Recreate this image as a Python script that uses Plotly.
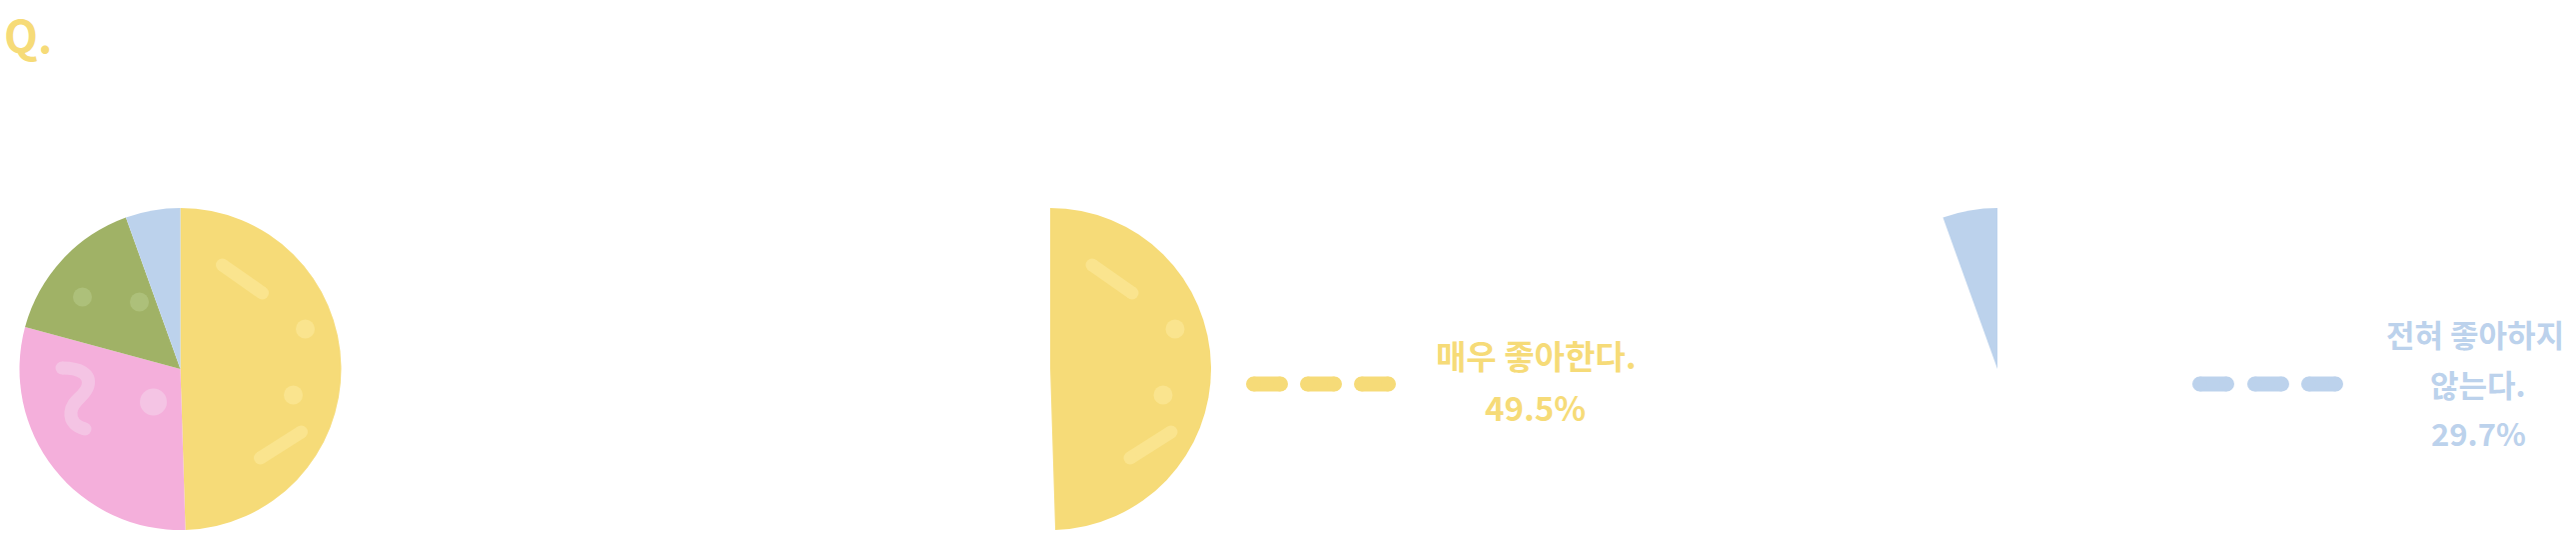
import plotly.graph_objects as go

# ---------------- data ----------------
categories = ["매우 좋아한다.", "좋아하는 편이다.", "좋아하지 않는 편이다.", "전혀 좋아하지 않는다."]
values = [49.5, 29.7, 15.3, 5.5]
slice_colors = ["#F6DB78", "#F4AFDB", "#A0B266", "#BCD2EC"]

title_text = "Q."
callout_yellow = ["매우 좋아한다.", "49.5%"]
callout_blue = ["전혀 좋아하지", "않는다.", "29.7%"]

# ---------------- layout helpers ----------------
W, H = 2578, 551
R = 161
CY = 369
centers_x = [180.5, 1051, 1999]
TRANSPARENT = "rgba(0,0,0,0)"
FONT = "Noto Sans CJK KR"


def px(x):
    return x / W


def py(y):
    return 1 - y / H


fig = go.Figure()


def add_pie(cx, visible_idx):
    cols = [c if (visible_idx is None or i in visible_idx) else TRANSPARENT
            for i, c in enumerate(slice_colors)]
    fig.add_trace(go.Pie(
        labels=categories, values=values, sort=False, direction="clockwise",
        rotation=0, marker=dict(colors=cols, line=dict(width=0)),
        textinfo="none", hoverinfo="none", showlegend=False,
        domain=dict(x=[px(cx - R), px(cx + R)], y=[py(CY + R), py(CY - R)]),
    ))


add_pie(centers_x[0], None)
add_pie(centers_x[1], [0])
add_pie(centers_x[2], [3])

shapes = []


def circle(x, y, r, color):
    shapes.append(dict(type="circle", xref="paper", yref="paper", layer="above",
                       x0=px(x - r), x1=px(x + r), y0=py(y + r), y1=py(y - r),
                       fillcolor=color, line=dict(width=0)))


def capsule(x0, y0, x1, y1, w, color):
    shapes.append(dict(type="line", xref="paper", yref="paper", layer="above",
                       x0=px(x0), y0=py(y0), x1=px(x1), y1=py(y1),
                       line=dict(color=color, width=w)))
    circle(x0, y0, w / 2, color)
    circle(x1, y1, w / 2, color)


def path(points_cmds, w, color, start, end):
    shapes.append(dict(type="path", xref="paper", yref="paper", layer="above",
                       path=points_cmds, line=dict(color=color, width=w),
                       fillcolor=TRANSPARENT))
    circle(start[0], start[1], w / 2, color)
    circle(end[0], end[1], w / 2, color)


# decorations on yellow slice (pie 1 and pie 2)
YD = "#FAE48E"
GD = "#ADC07A"
PD = "#F4C4E4"
SW = 13
for i, cx in enumerate(centers_x[:2]):
    capsule(cx + 42, CY - 104, cx + 82, CY - 76, SW, YD)
    circle(cx + 125, CY - 40, 9.5, YD)
    circle(cx + 113, CY + 26, 9.5, YD)
    capsule(cx + 80, CY + 89, cx + 121, CY + 63, SW, YD)
    if i == 0:
        circle(cx - 98, CY - 72, 9.5, GD)
        circle(cx - 41, CY - 67, 9.5, GD)
        circle(cx - 27, CY + 33, 13.5, PD)
        pts = [(62, 368), (80, 368), (91, 374), (88, 386), (85, 397), (72, 400),
               (71, 412), (70, 422), (77, 427), (85, 429)]
        pts = [(cx - 180.5 + a, b) for a, b in pts]
        s = "M {:.6f} {:.6f}".format(px(pts[0][0]), py(pts[0][1]))
        for k in range(1, len(pts), 3):
            s += " C " + ", ".join("{:.6f} {:.6f}".format(px(a), py(b)) for a, b in pts[k:k + 3])
        path(s, SW, PD, pts[0], pts[-1])

# leader dashes
DH = 15
for x0 in [1247, 1301, 1355]:
    capsule(x0 + DH / 2, 384, x0 + 42 - DH / 2, 384, DH, slice_colors[0])
for x0 in [2194, 2249, 2303]:
    capsule(x0 + DH / 2, 384, x0 + 42 - DH / 2, 384, DH, slice_colors[3])

annotations = [dict(text="<b>" + title_text + "</b>", x=px(2), y=py(34), xref="paper", yref="paper",
                    xanchor="left", yanchor="middle", showarrow=False,
                    font=dict(family=FONT, size=44, color=slice_colors[0], weight=700))]
for txt, (x, y) in zip(callout_yellow, [(1537, 355), (1536, 407)]):
    annotations.append(dict(text="<b>" + txt + "</b>", x=px(x), y=py(y), xref="paper", yref="paper",
                            xanchor="center", yanchor="middle", showarrow=False,
                            font=dict(family=FONT, size=33, color=slice_colors[0], weight=700)))
for txt, (x, y) in zip(callout_blue, [(2477, 333), (2480, 383), (2480, 432)]):
    annotations.append(dict(text="<b>" + txt + "</b>", x=px(x), y=py(y), xref="paper", yref="paper",
                            xanchor="center", yanchor="middle", showarrow=False,
                            font=dict(family=FONT, size=31, color=slice_colors[3], weight=700)))

fig.update_layout(width=W, height=H, margin=dict(l=0, r=0, t=0, b=0),
                  paper_bgcolor="white", plot_bgcolor="white",
                  shapes=shapes, annotations=annotations, showlegend=False)

fig.write_html("out.html", config={"displayModeBar": False},
               post_script="document.body.style.margin='0';document.body.style.padding='0';"
                           "document.body.style.overflow='hidden';")
